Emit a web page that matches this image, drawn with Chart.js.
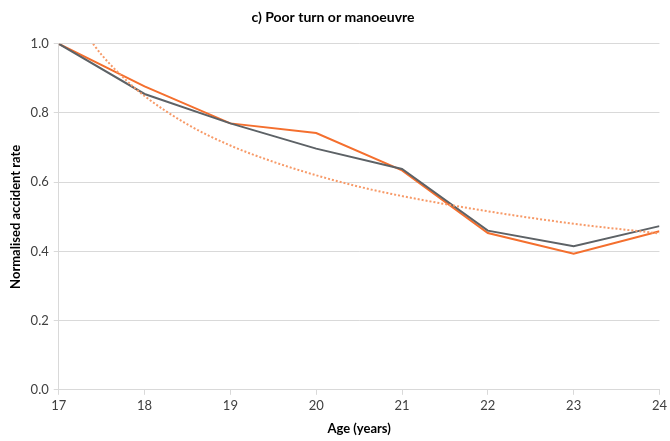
<!DOCTYPE html>
<html lang="en">
  <head>
    <meta charset="UTF-8" />
    <title>Poor turn or manoeuvre</title>
    <script src="https://cdn.jsdelivr.net/npm/chart.js"></script>
    <style>
      * {
        margin: 0;
        padding: 0;
        box-sizing: border-box;
      }
      body {
        background: #ffffff;
        font-family: Lato, "Open Sans", sans-serif;
      }
      .chart-box {
        width: 670px;
        height: 441px;
      }
    </style>
  </head>
  <body>
    <div class="chart-box">
      <canvas id="ageChart" width="670" height="441"></canvas>
    </div>

    <script>
      // ages on the x axis
      const ages = [17, 18, 19, 20, 21, 22, 23, 24];
      // orange series
      const orangeRates = [1.0, 0.877, 0.77, 0.742, 0.634, 0.453, 0.393, 0.458];
      // grey series
      const greyRates = [1.0, 0.855, 0.77, 0.697, 0.638, 0.46, 0.415, 0.473];
      // dotted trend line at these ages
      const trendAges = [17.4, 17.5, 17.75, 18, 18.5, 19, 19.5, 20, 20.5, 21, 22, 23, 24];
      const trendRates = [1.0, 0.968, 0.903, 0.849, 0.767, 0.706, 0.659, 0.62, 0.587, 0.56, 0.516, 0.48, 0.452];
      const yTicks = [0, 0.2, 0.4, 0.6, 0.8, 1.0];

      const toPoints = (xs, ys) => xs.map((x, i) => ({ x: x, y: ys[i] }));

      document.addEventListener("DOMContentLoaded", () => {
        const ctx = document.getElementById("ageChart").getContext("2d");
        new Chart(ctx, {
          type: "line",
          data: {
            datasets: [
              {
                label: "Trend",
                data: toPoints(trendAges, trendRates),
                borderColor: "#f79a68",
                borderWidth: 2,
                borderDash: [2, 2],
                pointRadius: 0,
                cubicInterpolationMode: "monotone",
                fill: false,
              },
              {
                label: "Grey",
                data: toPoints(ages, greyRates),
                borderColor: "#5d6266",
                borderWidth: 2,
                pointRadius: 0,
                tension: 0,
                fill: false,
              },
              {
                label: "Orange",
                data: toPoints(ages, orangeRates),
                borderColor: "#f46f2e",
                borderWidth: 2,
                pointRadius: 0,
                tension: 0,
                fill: false,
              },
            ],
          },
          options: {
            responsive: false,
            animation: false,
            layout: {
              padding: { left: 4, right: 8, top: 7, bottom: 0 },
            },
            plugins: {
              legend: { display: false },
              tooltip: { enabled: false },
              title: {
                display: true,
                text: "c) Poor turn or manoeuvre",
                color: "#000000",
                font: { family: "Lato", size: 14, weight: "bold" },
                padding: { top: 2, bottom: 18 },
              },
            },
            scales: {
              x: {
                type: "linear",
                min: 17,
                max: 24,
                afterBuildTicks: (axis) => {
                  axis.ticks = ages.map((v) => ({ value: v }));
                },
                ticks: {
                  color: "#404040",
                  font: { family: "Lato", size: 13 },
                  padding: 3,
                  maxRotation: 0,
                },
                grid: {
                  drawOnChartArea: false,
                  drawTicks: true,
                  tickLength: 5,
                  color: "#d9d9d9",
                },
                border: { color: "#d9d9d9" },
                title: {
                  display: true,
                  text: "Age (years)",
                  color: "#000000",
                  font: { family: "Lato", size: 13, weight: "bold" },
                  padding: { top: 5 },
                },
              },
              y: {
                min: 0,
                max: 1.0,
                afterBuildTicks: (axis) => {
                  axis.ticks = yTicks.map((v) => ({ value: v }));
                },
                ticks: {
                  color: "#404040",
                  font: { family: "Lato", size: 13 },
                  padding: 5,
                  callback: (v) => v.toFixed(1),
                },
                grid: {
                  color: "#d9d9d9",
                  tickLength: 5,
                },
                border: { color: "#d9d9d9" },
                title: {
                  display: true,
                  text: "Normalised accident rate",
                  color: "#000000",
                  font: { family: "Lato", size: 13, weight: "bold" },
                  padding: { bottom: 2 },
                },
              },
            },
          },
        });
      });
    </script>
  </body>
</html>
